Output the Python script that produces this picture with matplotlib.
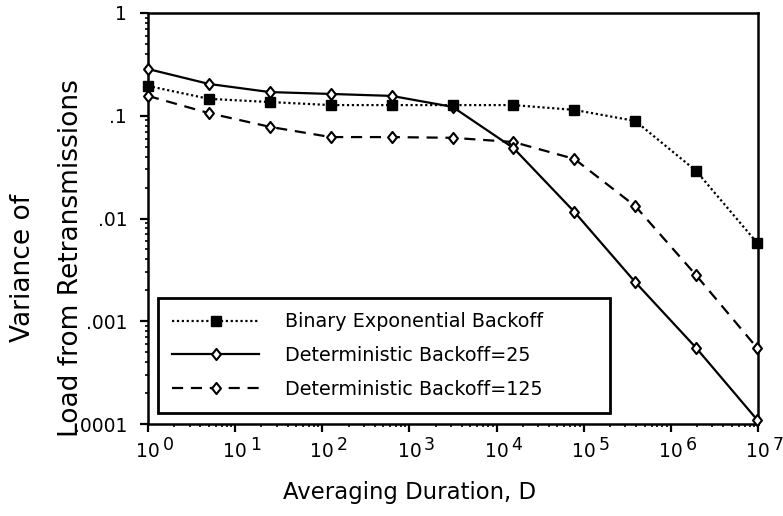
import numpy as np
import matplotlib
matplotlib.use("Agg")
import matplotlib.pyplot as plt
from matplotlib.path import Path
from matplotlib.ticker import FixedLocator, FixedFormatter, LogLocator, NullFormatter

# -------- Data -------- #
durations = [1, 5, 25, 125, 625, 3125, 15625, 78125, 390625, 1953125, 9765625]
binary_exp = [0.195, 0.146, 0.136, 0.127, 0.127, 0.127, 0.127, 0.114, 0.089, 0.029, 0.0058]
det_25 = [0.285, 0.204, 0.170, 0.163, 0.156, 0.122, 0.0485, 0.0116, 0.0024, 0.00055, 0.00011]
det_125 = [0.156, 0.106, 0.078, 0.062, 0.062, 0.061, 0.0555, 0.038, 0.0132, 0.0028, 0.00055]

y_ticks = [1e-4, 1e-3, 1e-2, 1e-1, 1]
y_tick_labels = [".0001", ".001", ".01", ".1", "1"]
x_exponents = [0, 1, 2, 3, 4, 5, 6, 7]

plt.rcParams['font.family'] = 'DejaVu Sans'

# slightly tall open diamond
diamond = Path([(0, 1), (0.8, 0), (0, -1), (-0.8, 0), (0, 1)],
               [Path.MOVETO, Path.LINETO, Path.LINETO, Path.LINETO, Path.CLOSEPOLY])

fig = plt.figure(figsize=(7.83, 5.16), dpi=100)
ax = fig.add_axes([148 / 783, 1 - 424 / 516, 610 / 783, 411 / 516])

# -------- Series -------- #
ax.plot(durations, det_125, color='black', lw=1.6, linestyle=(0, (5, 3.5)),
        marker=diamond, ms=8, mfc='white', mec='black', mew=1.5, clip_on=False,
        label='Deterministic Backoff=125', zorder=3)
ax.plot(durations, det_25, color='black', lw=1.6, linestyle='-',
        marker=diamond, ms=8, mfc='white', mec='black', mew=1.5, clip_on=False,
        label='Deterministic Backoff=25', zorder=4)
ax.plot(durations, binary_exp, color='black', lw=1.6, linestyle=(0, (1, 1.2)),
        marker='s', ms=7.5, mfc='black', mec='black', clip_on=False,
        label='Binary Exponential Backoff', zorder=5)

# -------- Axes -------- #
ax.set_xscale('log')
ax.set_yscale('log')
ax.set_xlim(1, 1e7)
ax.set_ylim(1e-4, 1)

for s in ax.spines.values():
    s.set_linewidth(1.8)

ax.yaxis.set_major_locator(FixedLocator(y_ticks))
ax.yaxis.set_major_formatter(FixedFormatter(y_tick_labels))
ax.yaxis.set_minor_locator(LogLocator(base=10, subs=np.arange(2, 10)))
ax.yaxis.set_minor_formatter(NullFormatter())
ax.xaxis.set_major_locator(FixedLocator([10.0 ** e for e in x_exponents]))
ax.xaxis.set_major_formatter(NullFormatter())
ax.xaxis.set_minor_locator(LogLocator(base=10, subs=np.arange(2, 10)))
ax.xaxis.set_minor_formatter(NullFormatter())

ax.tick_params(which='major', direction='out', length=6, width=1.6, labelsize=13.5, pad=9)
ax.tick_params(which='minor', direction='out', length=2.5, width=1.2)
ax.tick_params(top=False, right=False, which='both')

# x tick labels: "10" with a raised exponent
for e in x_exponents:
    ax.annotate("10", xy=(10.0 ** e, 0), xycoords=('data', 'axes fraction'),
                xytext=(0, -13), textcoords='offset points',
                ha='center', va='top', fontsize=13.5, annotation_clip=False)
    ax.annotate(str(e), xy=(10.0 ** e, 0), xycoords=('data', 'axes fraction'),
                xytext=(10.5, -9), textcoords='offset points',
                ha='left', va='top', fontsize=12.5, annotation_clip=False)

# -------- Labels -------- #
fig.text(410 / 783, 1 - 492 / 516, "Averaging Duration, D", ha='center', va='center', fontsize=16.4)
fig.text(23 / 783, 1 - 268 / 516, "Variance of", rotation=90, ha='center', va='center', fontsize=19)
fig.text(71 / 783, 1 - 258 / 516, "Load from Retransmissions", rotation=90, ha='center', va='center', fontsize=19)

# -------- Legend -------- #
handles, labels = ax.get_legend_handles_labels()
leg = ax.legend(handles[::-1], labels[::-1], loc='lower left',
                bbox_to_anchor=(10 / 610, 11 / 411, 452 / 610, 115 / 411), mode='expand',
                fontsize=13.8, frameon=True, fancybox=False, framealpha=1, numpoints=1,
                borderaxespad=0, handlelength=4.5, handletextpad=1.4,
                labelspacing=0.76, borderpad=0.75)
leg.get_frame().set_edgecolor('black')
leg.get_frame().set_linewidth(2.0)
leg.set_zorder(6)

fig.savefig("out.png", dpi=100)
